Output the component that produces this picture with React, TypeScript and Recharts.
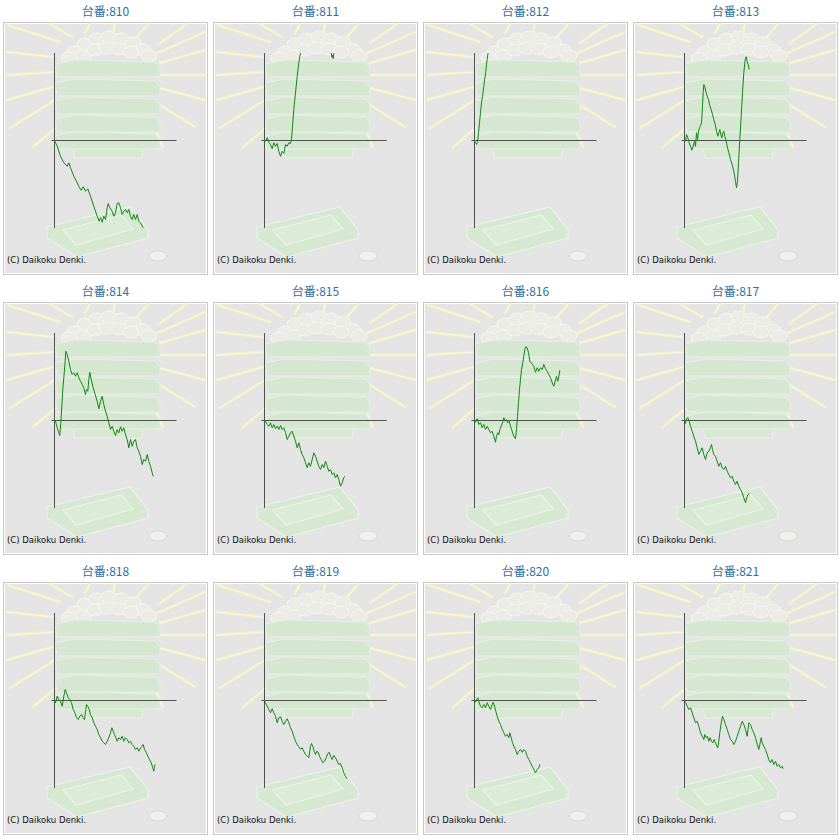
import { LineChart, Line, XAxis, YAxis, ReferenceLine } from "recharts";

// machine numbers shown above each panel
const machineNos = [810, 811, 812, 813, 814, 815, 816, 817, 818, 819, 820, 821];

// [games, coin difference]
const slump810: [number, number][] = [[0,0],[270,-230],[600,-630],[930,-890],[1270,-1030],[1430,-890],[1600,-1090],[1930,-1430],[2270,-1690],[2500,-1890],[2670,-1990],[2870,-1850],[3100,-2030],[3330,-1930],[3600,-2230],[3930,-2630],[4270,-3030],[4470,-3230],[4600,-3090],[4770,-3270],[4930,-3030],[5100,-3160],[5270,-2690],[5370,-2520],[5530,-2690],[5770,-2830],[5930,-3030],[6100,-2890],[6270,-2520],[6430,-2490],[6600,-2690],[6770,-2960],[6930,-2830],[7100,-2760],[7270,-2890],[7430,-2760],[7600,-3030],[7770,-3160],[7930,-2960],[8100,-3160],[8270,-2960],[8430,-3230],[8600,-3290],[8870,-3490]];
const slump811: [number, number][] = [[0,0],[100,-30],[270,110],[430,-70],[600,-160],[770,-330],[930,-90],[1100,-230],[1270,-120],[1430,-430],[1600,-630],[1770,-430],[1930,-520],[2100,-160],[2270,-230],[2430,-90],[2600,-120],[2700,40],[2800,570],[2930,1240],[3100,1910],[3270,2570],[3430,3110],[3600,3510],[4000,4400],[5000,5600],[6000,4800],[6400,4000],[6650,3520],[6750,3330],[6800,3420],[6870,3280],[7000,3700],[7300,4500]];
const slump812: [number, number][] = [[0,0],[100,-90],[200,-160],[300,-70],[400,310],[500,710],[600,1110],[700,1510],[800,1770],[870,1970],[930,2170],[1000,2440],[1070,2570],[1130,2770],[1200,3040],[1270,3240],[1330,3440],[1370,3510],[1600,4400],[2200,5600]];
const slump813: [number, number][] = [[0,0],[100,-30],[200,240],[330,110],[470,-90],[600,-230],[730,-390],[870,-230],[1000,-30],[1100,-230],[1200,310],[1300,40],[1400,370],[1500,510],[1600,600],[1700,710],[1800,1370],[1870,1910],[1930,2240],[2030,2150],[2130,1970],[2270,1770],[2400,1640],[2530,1400],[2670,1240],[2800,1040],[2930,840],[3070,640],[3200,370],[3330,170],[3430,310],[3530,440],[3630,240],[3730,110],[3830,310],[3930,370],[4030,170],[4130,40],[4270,-230],[4430,-490],[4600,-760],[4770,-960],[4930,-1230],[5100,-1630],[5200,-1890],[5300,-1630],[5400,-890],[5530,40],[5670,970],[5800,1910],[5930,2710],[6070,3240],[6170,3350],[6270,3170],[6370,3040],[6470,2840]];
const slump814: [number, number][] = [[0,0],[100,-30],[270,-290],[430,-490],[530,-600],[630,-90],[730,570],[830,1240],[930,1710],[1030,2170],[1130,2770],[1270,2640],[1430,2370],[1600,2040],[1770,1840],[1930,1910],[2100,1770],[2270,1910],[2430,1710],[2600,1570],[2770,1440],[2930,1310],[3100,1040],[3200,1240],[3330,1170],[3430,1640],[3530,1930],[3670,1640],[3870,1310],[4070,1040],[4270,770],[4430,470],[4600,770],[4770,970],[4930,640],[5100,370],[5270,170],[5430,-90],[5600,-360],[5770,-230],[5930,-430],[6100,-600],[6270,-360],[6430,-490],[6600,-250],[6770,-430],[6930,-290],[7100,-560],[7270,-760],[7430,-1090],[7600,-760],[7770,-1030],[7930,-830],[8100,-760],[8270,-1090],[8430,-1230],[8600,-1430],[8770,-1760],[8930,-1560],[9100,-1630],[9270,-1360],[9430,-1630],[9600,-1830],[9770,-2090],[9870,-2230]];
const slump815: [number, number][] = [[0,0],[100,-30],[270,-160],[430,-230],[600,-90],[770,-290],[930,-160],[1100,-330],[1270,-230],[1430,-360],[1600,-200],[1770,-360],[1930,-290],[2100,-490],[2270,-760],[2430,-630],[2600,-490],[2770,-430],[2930,-630],[3100,-830],[3270,-1090],[3430,-890],[3600,-1160],[3770,-1360],[3930,-1490],[4100,-1690],[4270,-1890],[4430,-1690],[4600,-1830],[4770,-1560],[4930,-1290],[5100,-1430],[5270,-1630],[5430,-1830],[5600,-1960],[5770,-1760],[5930,-1890],[6100,-1630],[6270,-1830],[6430,-2030],[6600,-1960],[6770,-2160],[6930,-2090],[7100,-2290],[7270,-2160],[7430,-2360],[7600,-2630],[7770,-2490],[7930,-2290],[8030,-2230]];
const slump816: [number, number][] = [[0,0],[100,-70],[270,70],[430,-160],[600,-90],[770,-290],[930,-160],[1100,-360],[1270,-230],[1430,-360],[1600,-490],[1770,-430],[1930,-630],[2100,-870],[2200,-630],[2330,-490],[2430,-560],[2530,-360],[2670,-230],[2800,-90],[2930,110],[3070,-30],[3200,40],[3330,-90],[3470,-30],[3600,-230],[3770,-430],[3930,-630],[4100,-730],[4200,-360],[4300,170],[4400,710],[4500,1240],[4600,1640],[4700,2040],[4830,2310],[4930,2570],[5030,2840],[5130,2950],[5270,2910],[5400,2710],[5530,2370],[5670,2310],[5800,2240],[5930,2170],[6100,1930],[6270,2110],[6430,1970],[6600,2110],[6770,2040],[6930,2240],[7100,2070],[7270,1970],[7430,1840],[7600,1710],[7770,1510],[7930,1370],[8070,1570],[8200,1770],[8330,1570],[8470,1840],[8530,2010]];
const slump817: [number, number][] = [[0,0],[100,-120],[200,70],[330,110],[470,-30],[600,-230],[770,-430],[930,-630],[1100,-830],[1270,-1090],[1430,-1360],[1600,-1230],[1770,-1090],[1930,-1360],[2100,-1560],[2270,-1290],[2430,-1230],[2600,-1090],[2700,-960],[2800,-1160],[2930,-1360],[3100,-1430],[3270,-1630],[3430,-1830],[3600,-1690],[3770,-1890],[3930,-1960],[4100,-1830],[4270,-2030],[4430,-2160],[4600,-2290],[4770,-2230],[4930,-2430],[5100,-2560],[5270,-2430],[5430,-2630],[5600,-2760],[5770,-2890],[5930,-3090],[6100,-3290],[6270,-3030],[6370,-2960],[6500,-2920]];
const slump818: [number, number][] = [[0,0],[100,-90],[270,170],[430,40],[600,-30],[770,-230],[930,170],[1070,440],[1200,310],[1370,110],[1530,40],[1700,-90],[1870,-360],[2030,-490],[2200,-690],[2370,-760],[2530,-630],[2700,-560],[2870,-690],[3000,-760],[3130,-360],[3200,-160],[3330,-230],[3470,-360],[3600,-560],[3770,-690],[3930,-890],[4100,-1030],[4270,-1160],[4430,-1360],[4600,-1490],[4770,-1630],[4930,-1690],[5100,-1760],[5270,-1630],[5430,-1490],[5600,-1290],[5730,-1090],[5870,-1230],[6000,-1360],[6130,-1490],[6270,-1630],[6430,-1490],[6600,-1560],[6770,-1430],[6930,-1630],[7100,-1490],[7270,-1560],[7430,-1690],[7600,-1630],[7770,-1760],[7930,-1830],[8100,-1960],[8270,-1890],[8430,-2030],[8600,-1890],[8770,-1830],[8870,-1760],[9000,-1960],[9170,-2070],[9330,-2230],[9500,-2360],[9670,-2490],[9830,-2690],[9930,-2830],[10000,-2630],[10070,-2560]];
const slump819: [number, number][] = [[0,0],[100,-90],[270,-230],[430,-360],[600,-490],[770,-330],[930,-490],[1100,-630],[1270,-890],[1430,-690],[1600,-650],[1770,-830],[1930,-960],[2100,-830],[2270,-730],[2430,-890],[2600,-1090],[2770,-1230],[2930,-1430],[3100,-1630],[3270,-1760],[3430,-1850],[3600,-1960],[3770,-1890],[3930,-2030],[4100,-2160],[4270,-2230],[4430,-2290],[4600,-1830],[4700,-1720],[4830,-1830],[4970,-2030],[5100,-2160],[5230,-2030],[5370,-2070],[5500,-2230],[5670,-2360],[5830,-2490],[6000,-2430],[6170,-2290],[6330,-2120],[6470,-2070],[6600,-2230],[6770,-2360],[6930,-2200],[7100,-2290],[7270,-2430],[7430,-2560],[7600,-2520],[7770,-2690],[7930,-2890],[8100,-3030],[8270,-3130]];
const slump820: [number, number][] = [[0,0],[100,-70],[200,40],[330,110],[470,-90],[600,-230],[770,-290],[930,-160],[1100,-290],[1270,-90],[1430,-230],[1600,-360],[1770,-160],[1870,-70],[2000,-230],[2130,-430],[2270,-630],[2430,-830],[2600,-960],[2770,-1160],[2930,-1290],[3100,-1430],[3270,-1360],[3430,-1490],[3530,-1290],[3670,-1490],[3800,-1690],[3930,-1830],[4100,-1960],[4270,-2160],[4430,-2030],[4600,-1960],[4770,-2070],[4930,-1960],[5100,-2030],[5270,-2230],[5430,-2360],[5600,-2490],[5770,-2630],[5930,-2760],[6100,-2890],[6270,-2760],[6430,-2690],[6530,-2560]];
const slump821: [number, number][] = [[0,0],[100,-70],[270,-230],[430,-360],[600,-290],[770,-490],[930,-690],[1100,-890],[1270,-830],[1430,-1030],[1600,-1290],[1770,-1430],[1930,-1560],[2030,-1360],[2170,-1490],[2300,-1430],[2430,-1630],[2570,-1490],[2700,-1630],[2830,-1690],[2970,-1560],[3100,-1690],[3230,-1830],[3330,-1890],[3430,-1630],[3530,-1290],[3670,-890],[3800,-630],[3930,-760],[4100,-960],[4270,-1160],[4430,-1360],[4600,-1560],[4770,-1630],[4930,-1760],[5100,-1630],[5270,-1430],[5430,-1230],[5600,-1030],[5770,-830],[5930,-960],[6100,-1160],[6270,-1430],[6430,-890],[6600,-960],[6770,-1160],[6930,-1290],[7100,-1490],[7270,-1760],[7430,-1960],[7600,-1630],[7670,-1490],[7770,-1690],[7930,-1830],[8100,-1960],[8270,-2160],[8430,-2360],[8600,-2490],[8770,-2360],[8930,-2560],[9100,-2430],[9270,-2630],[9430,-2560],[9600,-2690],[9770,-2630],[9870,-2730]];

const slumps = [slump810, slump811, slump812, slump813, slump814, slump815, slump816, slump817, slump818, slump819, slump820, slump821];

const PANEL_W = 205;
const PANEL_H = 253;

// faint background picture (rays, stacked boxes, tray, coin)
const rays = [
  [5, 3, 57, 20], [47, 2, 69, 15], [4, 30, 50, 35], [4, 53, 50, 50], [4, 78, 50, 65],
  [7, 106, 52, 78], [30, 125, 54, 105], [202, 10, 150, 33], [202, 28, 157, 41],
  [202, 53, 157, 53], [202, 78, 157, 66], [192, 105, 157, 83], [160, 125, 154, 111],
  [87, 2, 82, 11], [112, 2, 110, 11], [145, 2, 134, 15], [184, 2, 157, 21],
];
const trayTops = [38, 57, 75, 93, 110];
const balls = [
  [72, 30], [82, 22], [94, 17], [106, 15], [118, 17], [130, 21], [140, 28],
  [80, 34], [92, 28], [104, 26], [116, 27], [128, 30], [146, 34], [66, 36],
];

function Backdrop() {
  return (
    <svg width={PANEL_W} height={PANEL_H} style={{ position: "absolute", left: 0, top: 22 }}>
      {rays.map(([x1, y1, x2, y2], i) => (
        <g key={i}>
          <line x1={x1} y1={y1} x2={x2} y2={y2} stroke="#f1f1c6" strokeWidth={3} strokeLinecap="round" />
          <line x1={x1} y1={y1} x2={x2} y2={y2} stroke="#f8f8e2" strokeWidth={1} strokeLinecap="round" />
        </g>
      ))}
      {balls.map(([cx, cy], i) => (
        <ellipse key={i} cx={cx} cy={cy} rx={8} ry={6} fill="#ececE6" stroke="#f6f6f2" strokeWidth={1} />
      ))}
      <polygon points="67,112 142,112 139,136 72,136" fill="#d7e8d3" stroke="#e8f2e6" strokeWidth={1} />
      {trayTops.map((y0, i) => (
        <polygon
          key={i}
          points={`52,${y0 + 4} 72,${y0} 152,${y0 + 2} 157,${y0 + 8} 157,${y0 + 17} 54,${y0 + 17}`}
          fill="#d5e7d1"
          stroke="#e6f1e4"
          strokeWidth={1}
        />
      ))}
      <polygon points="44,205 127,185 145,208 145,216 74,235 44,216" fill="#d6e8d2" stroke="#eaf4e8" strokeWidth={1.2} />
      <polygon points="60,208 118,193 130,207 73,223" fill="#dcebd8" stroke="#eaf4e8" strokeWidth={1.2} />
      <ellipse cx={155} cy={234} rx={9} ry={5} fill="#f0f0ec" stroke="#d8d8d4" strokeWidth={1} />
      <text x={4} y={241} fontSize={8.5} fill="#111" fontFamily="DejaVu Sans">(C) Daikoku Denki.</text>
    </svg>
  );
}

function SlumpPanel({ no, series }: { no: number; series: [number, number][] }) {
  const rows = series.map(([g, c]) => ({ g, c }));
  return (
    <div style={{ position: "relative", width: PANEL_W, height: 280 }}>
      <div style={{
        position: "absolute", left: 0, top: 0, width: PANEL_W, height: 22, lineHeight: "21px",
        textAlign: "center", fontSize: 12, color: "#2f6fa3", fontFamily: "'Noto Sans CJK JP', sans-serif",
      }}>
        台番:{no}
      </div>
      <div style={{
        position: "absolute", left: 0, top: 22, width: PANEL_W, height: PANEL_H, boxSizing: "border-box",
        border: "1px solid #c8c8c8", boxShadow: "inset 0 0 0 1px #ffffff", background: "#e4e4e4",
      }} />
      <Backdrop />
      <div style={{ position: "absolute", left: 0, top: 22 }}>
        <LineChart width={PANEL_W} height={PANEL_H} data={rows} margin={{ top: 31, right: 31.5, bottom: 47, left: 48.5 }}>
          <XAxis type="number" dataKey="g" domain={[-300, 12200]} allowDataOverflow hide />
          <YAxis type="number" domain={[-3500, 3500]} allowDataOverflow hide />
          <ReferenceLine x={0} stroke="#505050" strokeWidth={1} />
          <ReferenceLine y={0} stroke="#505050" strokeWidth={1} />
          <Line type="linear" dataKey="c" stroke="#108810" strokeWidth={1} dot={false} isAnimationActive={false} />
        </LineChart>
      </div>
    </div>
  );
}

export default function App() {
  return (
    <div style={{ position: "absolute", left: 0, top: 0, width: 840, height: 840, background: "#fff" }}>
      {machineNos.map((no, i) => (
        <div key={no} style={{ position: "absolute", left: 3 + (i % 4) * 210, top: Math.floor(i / 4) * 280 }}>
          <SlumpPanel no={no} series={slumps[i]} />
        </div>
      ))}
    </div>
  );
}
